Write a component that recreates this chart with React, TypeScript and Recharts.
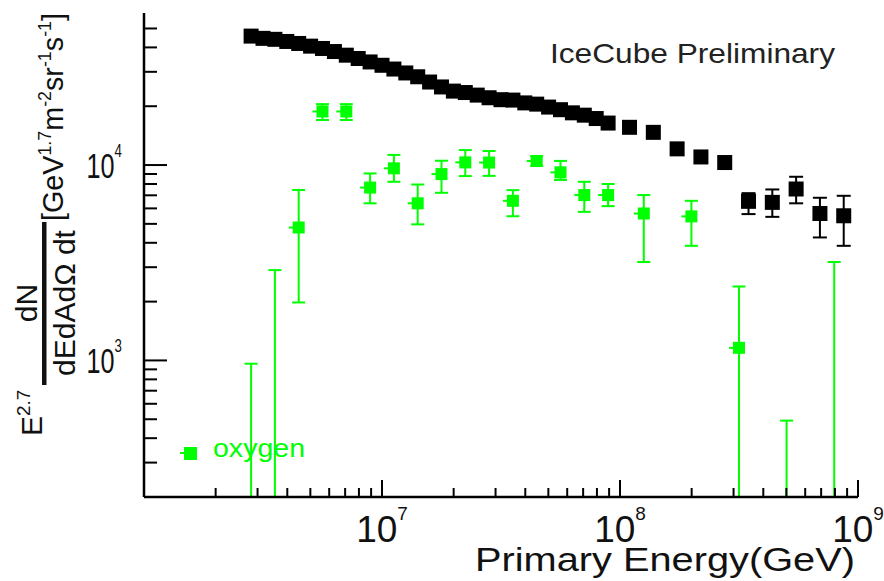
import React from "react";
import { ScatterChart, Scatter, XAxis, YAxis, ErrorBar, Customized } from "recharts";

const FONT = '"Liberation Sans", Arial, Helvetica, sans-serif';
const GREEN = "#00ff00";
const INK = "#000000";

// log10(E/GeV) bin centres and flux values
const blackLogE = [6.45, 6.5, 6.55, 6.6, 6.65, 6.7, 6.75, 6.8, 6.85, 6.9, 6.95, 7.0, 7.05, 7.1, 7.15, 7.2, 7.25, 7.3, 7.35, 7.4, 7.45, 7.5, 7.55, 7.6, 7.65, 7.7, 7.75, 7.8, 7.85, 7.9, 7.95, 8.04, 8.14, 8.24, 8.34, 8.44];
const blackFlux = [45700, 44500, 44000, 42900, 41900, 40600, 39500, 38100, 36500, 35100, 33700, 32400, 31000, 29600, 28300, 26600, 25100, 23900, 23500, 22800, 22100, 21600, 21500, 20800, 20500, 19800, 19200, 18500, 18000, 17300, 16400, 15600, 14700, 12100, 11000, 10300];

const blackTailLogE = [8.54, 8.64, 8.74, 8.84, 8.94];
const blackTailFlux = [6520, 6440, 7540, 5650, 5500];
const blackTailLow = [5610, 5430, 6370, 4260, 3860];
const blackTailHigh = [7180, 7500, 8710, 6800, 6960];

const greenLogE = [6.45, 6.55, 6.65, 6.75, 6.85, 6.95, 7.05, 7.15, 7.25, 7.35, 7.45, 7.55, 7.65, 7.75, 7.85, 7.95, 8.1, 8.3, 8.5, 8.7, 8.9];
const greenFlux = [120, 120, 4790, 18800, 18800, 7670, 9620, 6370, 8990, 10320, 10300, 6560, 10490, 9170, 7020, 7020, 5650, 5460, 1160, 120, 120];
const greenLow = [50, 50, 1980, 17000, 17000, 6370, 8210, 4970, 7210, 8780, 8800, 5470, 9900, 8380, 5760, 6160, 3190, 3860, 200, 50, 50];
const greenHigh = [962, 2900, 7450, 20500, 20500, 9060, 11270, 7950, 10520, 11930, 11800, 7440, 11100, 10500, 8210, 8000, 7020, 6560, 2390, 492, 3190];

const xTicks = [2e6, 3e6, 4e6, 5e6, 6e6, 7e6, 8e6, 9e6, 1e7, 2e7, 3e7, 4e7, 5e7, 6e7, 7e7, 8e7, 9e7, 1e8, 2e8, 3e8, 4e8, 5e8, 6e8, 7e8, 8e8, 9e8, 1e9];
const yTicks = [300, 400, 500, 600, 700, 800, 900, 1000, 2000, 3000, 4000, 5000, 6000, 7000, 8000, 9000, 10000, 20000, 30000, 40000, 50000];

const blackData = blackLogE.map((le, i) => ({ e: Math.pow(10, le), v: blackFlux[i] }));
const blackTailData = blackTailLogE.map((le, i) => ({
  e: Math.pow(10, le),
  v: blackTailFlux[i],
  err: [blackTailFlux[i] - blackTailLow[i], blackTailHigh[i] - blackTailFlux[i]],
}));
const greenData = greenLogE.map((le, i) => ({
  e: Math.pow(10, le),
  v: greenFlux[i],
  err: [greenFlux[i] - greenLow[i], greenHigh[i] - greenFlux[i]],
}));

const decade = (v: number) => {
  const l = Math.log10(v);
  return Math.abs(l - Math.round(l)) < 1e-6 ? Math.round(l) : null;
};

const XTick = (props: any) => {
  const { x, y, payload, side } = props;
  const d = decade(payload.value);
  const len = d !== null ? 17 : 9;
  const dir = side === "bottom" ? -1 : 1;
  return (
    <g>
      <line x1={x} x2={x} y1={y} y2={y + dir * len} stroke={INK} strokeWidth={2} />
      {side === "bottom" && d !== null ? (
        <text x={x} y={y + 45} textAnchor="middle" fontSize={37} fontFamily={FONT} fill="#111">
          10<tspan dy={-22} fontSize={19}>{d}</tspan>
        </text>
      ) : null}
    </g>
  );
};

const YTick = (props: any) => {
  const { x, y, payload, side } = props;
  const d = decade(payload.value);
  const len = d !== null ? 23 : 13;
  const dir = side === "left" ? 1 : -1;
  return (
    <g>
      <line x1={x} x2={x + dir * len} y1={y} y2={y} stroke={INK} strokeWidth={2} />
      {side === "left" && d !== null ? (
        <text
          transform={`translate(${x - 22},${y + 13}) scale(0.7,1)`}
          textAnchor="end"
          fontSize={36}
          fontFamily={FONT}
          fill="#111"
        >
          10<tspan dy={-21} fontSize={19}>{d}</tspan>
        </text>
      ) : null}
    </g>
  );
};

const BlackSquare = (p: any) => <rect x={p.cx - 7.5} y={p.cy - 7.5} width={15} height={15} fill={INK} />;
const GreenSquare = (p: any) => (
  <g>
    <rect x={p.cx - 6} y={p.cy - 6} width={12} height={12} fill={GREEN} />
    <line x1={p.cx - 10} x2={p.cx - 5} y1={p.cy} y2={p.cy} stroke={GREEN} strokeWidth={2} />
  </g>
);

const Annotations = () => (
  <g fontFamily={FONT}>
    <defs>
      <clipPath id="plotAreaClip">
        <rect x={144} y={13} width={714} height={485} />
      </clipPath>
    </defs>
    <style>{`.recharts-errorBars, .recharts-errorBar { clip-path: url(#plotAreaClip); }`}</style>
    <text x={550} y={63} fontSize={28} fill="#222" textLength={285} lengthAdjust="spacingAndGlyphs">
      IceCube Preliminary
    </text>
    <rect x={184} y={447} width={13} height={13} fill={GREEN} />
    <line x1={180} x2={186} y1={453} y2={453} stroke={GREEN} strokeWidth={2} />
    <text x={213} y={457} fontSize={26} fill={GREEN} textLength={92} lengthAdjust="spacingAndGlyphs">
      oxygen
    </text>
    <text x={475} y={571} fontSize={33} fill="#111" textLength={380} lengthAdjust="spacingAndGlyphs">
      Primary Energy(GeV)
    </text>
    <g fill="#111">
      <text transform="translate(42,436) rotate(-90)" fontSize={30}>
        E<tspan dy={-12} fontSize={19}>2.7</tspan>
      </text>
      <text transform="translate(37,303) rotate(-90)" fontSize={30} textAnchor="middle">
        dN
      </text>
      <rect x={42} y={222} width={4.5} height={163} />
      <text transform="translate(75,303) rotate(-90)" fontSize={30} textAnchor="middle">
        dEdAdΩ dt
      </text>
      <text transform="translate(63,221) rotate(-90)" fontSize={29} textLength={208} lengthAdjust="spacingAndGlyphs">
        [GeV<tspan dy={-12} fontSize={18}>1.7</tspan>
        <tspan dy={12}>m</tspan>
        <tspan dy={-12} fontSize={18}>-2</tspan>
        <tspan dy={12}>sr</tspan>
        <tspan dy={-12} fontSize={18}>-1</tspan>
        <tspan dy={12}>s</tspan>
        <tspan dy={-12} fontSize={18}>-1</tspan>
        <tspan dy={12}>]</tspan>
      </text>
    </g>
  </g>
);

const axisLine = { stroke: INK, strokeWidth: 2.5 };

export default function App() {
  return (
    <div style={{ position: "absolute", left: 0, top: 0, width: 884, height: 581, background: "#fff" }}>
      <ScatterChart width={884} height={581} margin={{ top: 13, right: 26, bottom: 0, left: 0 }}>
        <XAxis
          xAxisId="b"
          type="number"
          dataKey="e"
          scale="log"
          domain={[1e6, 1e9]}
          allowDataOverflow
          ticks={xTicks}
          interval={0}
          tick={(p: any) => <XTick {...p} side="bottom" />}
          tickLine={false}
          axisLine={axisLine}
          tickSize={0}
          tickMargin={0}
          height={84}
        />
        <XAxis
          xAxisId="t"
          orientation="top"
          type="number"
          dataKey="e"
          scale="log"
          domain={[1e6, 1e9]}
          allowDataOverflow
          ticks={xTicks}
          interval={0}
          tick={(p: any) => <XTick {...p} side="top" />}
          tickLine={false}
          axisLine={axisLine}
          tickSize={0}
          tickMargin={0}
          height={0}
        />
        <YAxis
          yAxisId="l"
          type="number"
          dataKey="v"
          scale="log"
          domain={[200, 60000]}
          allowDataOverflow
          ticks={yTicks}
          interval={0}
          tick={(p: any) => <YTick {...p} side="left" />}
          tickLine={false}
          axisLine={axisLine}
          tickSize={0}
          tickMargin={0}
          width={144}
        />
        <YAxis
          yAxisId="r"
          orientation="right"
          type="number"
          dataKey="v"
          scale="log"
          domain={[200, 60000]}
          allowDataOverflow
          ticks={yTicks}
          interval={0}
          tick={(p: any) => <YTick {...p} side="right" />}
          tickLine={false}
          axisLine={axisLine}
          tickSize={0}
          tickMargin={0}
          width={0}
        />
        <Scatter data={blackData} xAxisId="b" yAxisId="l" shape={BlackSquare} isAnimationActive={false} />
        <Scatter data={blackTailData} xAxisId="b" yAxisId="l" shape={BlackSquare} isAnimationActive={false}>
          <ErrorBar dataKey="err" direction="y" width={7} stroke={INK} strokeWidth={2} isAnimationActive={false} />
        </Scatter>
        <Scatter data={greenData} xAxisId="b" yAxisId="l" shape={GreenSquare} isAnimationActive={false}>
          <ErrorBar dataKey="err" direction="y" width={6.5} stroke={GREEN} strokeWidth={2} isAnimationActive={false} />
        </Scatter>
        <Customized component={Annotations} />
      </ScatterChart>
    </div>
  );
}
